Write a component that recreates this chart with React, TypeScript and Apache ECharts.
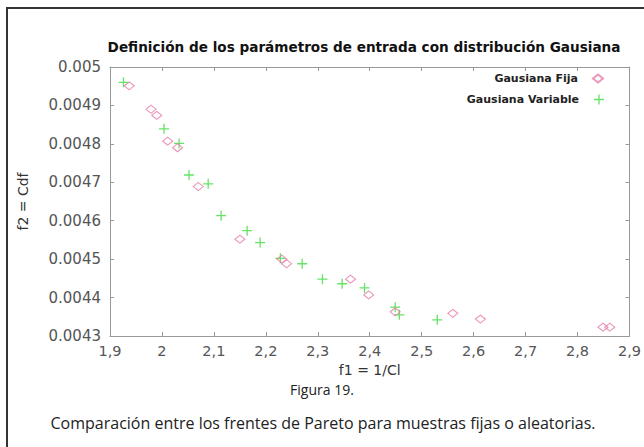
import React, { useEffect, useRef } from "react";
import * as echarts from "echarts";

const titleText = "Definición de los parámetros de entrada con distribución Gausiana";
const xName = "f1 = 1/Cl";
const yName = "f2 = Cdf";
const figLabel = "Figura 19.";
const caption = "Comparación entre los frentes de Pareto para muestras fijas o aleatorias.";
const seriesNames = ["Gausiana Fija", "Gausiana Variable"];

const xMin = 1.9, xMax = 2.9, xStep = 0.1;
const yMin = 0.0043, yMax = 0.005, yStep = 0.0001;

const fijaX = [1.937, 1.979, 1.990, 2.011, 2.030, 2.070, 2.150, 2.231, 2.240, 2.363, 2.398, 2.449, 2.560, 2.613, 2.849, 2.862];
const fijaY = [0.004951, 0.004890, 0.004874, 0.004807, 0.004790, 0.004689, 0.004552, 0.004500, 0.004488, 0.004448, 0.004407, 0.004363, 0.004359, 0.004344, 0.004323, 0.004323];

const variableX = [1.926, 2.004, 2.033, 2.052, 2.089, 2.114, 2.164, 2.189, 2.228, 2.270, 2.309, 2.347, 2.390, 2.449, 2.457, 2.530];
const variableY = [0.004960, 0.004839, 0.004801, 0.004719, 0.004696, 0.004613, 0.004574, 0.004543, 0.004502, 0.004488, 0.004448, 0.004436, 0.004425, 0.004375, 0.004355, 0.004342];

const pink = "#e67aaa";
const green = "#3fdc3f";
const plusPath = "path://M0,4.35H10V5.65H0Z M4.35,0H5.65V10H4.35Z";

export default function App() {
  const ref = useRef<HTMLDivElement>(null);
  useEffect(() => {
    if (!ref.current) return;
    const chart = echarts.init(ref.current, null, { renderer: "svg" });
    const fija = fijaX.map((x, i) => [x, fijaY[i]]);
    const variable = variableX.map((x, i) => [x, variableY[i]]);
    const font = "'DejaVu Sans', Verdana, sans-serif";
    const capFont = "'Open Sans', 'Noto Sans', sans-serif";
    const xFmt = (v: number) => String(Number(v.toFixed(1))).replace(".", ",");
    const yFmt = (v: number) => String(Number(v.toFixed(4)));
    const axisLine = { show: true, lineStyle: { color: "#999", width: 1 } };
    const axisTick = { show: true, inside: true, length: 4, lineStyle: { color: "#999" } };
    chart.setOption({
      animation: false,
      backgroundColor: "#fff",
      title: {
        text: titleText,
        left: 359,
        textAlign: "center",
        top: 35,
        textStyle: { fontFamily: font, fontWeight: "bold", fontSize: 13.6, color: "#111" },
      },
      grid: { left: 110, right: 13, top: 67, bottom: 111, containLabel: false },
      legend: [
        {
          data: [seriesNames[0]],
          right: 35,
          top: 68,
          align: "right",
          itemWidth: 10,
          itemHeight: 8,
          textStyle: { fontFamily: font, fontWeight: "bold", fontSize: 11, color: "#222", padding: [0, 10, 0, 0] },
        },
        {
          data: [seriesNames[1]],
          right: 35,
          top: 89,
          align: "right",
          itemWidth: 10,
          itemHeight: 10,
          textStyle: { fontFamily: font, fontWeight: "bold", fontSize: 11, color: "#222", padding: [7, 10, 0, 0] },
        },
      ],
      xAxis: [
        {
          type: "value",
          min: xMin,
          max: xMax,
          interval: xStep,
          name: xName,
          nameLocation: "middle",
          nameGap: 26,
          nameTextStyle: { fontFamily: font, fontSize: 14, color: "#333" },
          axisLine,
          axisTick,
          splitLine: { show: false },
          axisLabel: { formatter: xFmt, fontFamily: font, fontSize: 14.5, color: "#555", margin: 7 },
        },
        {
          type: "value",
          position: "top",
          min: xMin,
          max: xMax,
          interval: xStep,
          axisLine,
          axisTick,
          splitLine: { show: false },
          axisLabel: { show: false },
        },
      ],
      yAxis: [
        {
          type: "value",
          min: yMin,
          max: yMax,
          interval: yStep,
          name: yName,
          nameLocation: "middle",
          nameGap: 80,
          nameTextStyle: { fontFamily: font, fontSize: 14, color: "#333" },
          axisLine,
          axisTick,
          splitLine: { show: false },
          axisLabel: { formatter: yFmt, fontFamily: font, fontSize: 15, color: "#555", margin: 9 },
        },
        {
          type: "value",
          position: "right",
          min: yMin,
          max: yMax,
          interval: yStep,
          axisLine,
          axisTick,
          splitLine: { show: false },
          axisLabel: { show: false },
        },
      ],
      series: [
        {
          name: seriesNames[0],
          type: "scatter",
          data: fija,
          symbol: "diamond",
          symbolSize: [10, 8],
          itemStyle: { color: "rgba(255,255,255,0)", borderColor: pink, borderWidth: 1.1 },
          z: 3,
        },
        {
          name: seriesNames[1],
          type: "scatter",
          data: variable,
          symbol: plusPath,
          symbolSize: 10,
          itemStyle: { color: green },
          z: 2,
        },
      ],
      graphic: [
        {
          type: "rect",
          shape: { x: 7, y: 8, width: 700, height: 500 },
          style: { fill: "none", stroke: "#333", lineWidth: 2 },
          z: -1,
        },
        {
          type: "text",
          x: 322,
          y: 389,
          style: { text: figLabel, fontFamily: capFont, fontSize: 14, fill: "#222", textAlign: "center", textVerticalAlign: "middle" },
        },
        {
          type: "text",
          x: 323,
          y: 423,
          style: { text: caption, fontFamily: capFont, fontSize: 16, fill: "#222", textAlign: "center", textVerticalAlign: "middle" },
        },
      ],
    });
    return () => chart.dispose();
  }, []);
  return <div ref={ref} style={{ position: "fixed", left: 0, top: 0, width: 644, height: 447 }} />;
}
